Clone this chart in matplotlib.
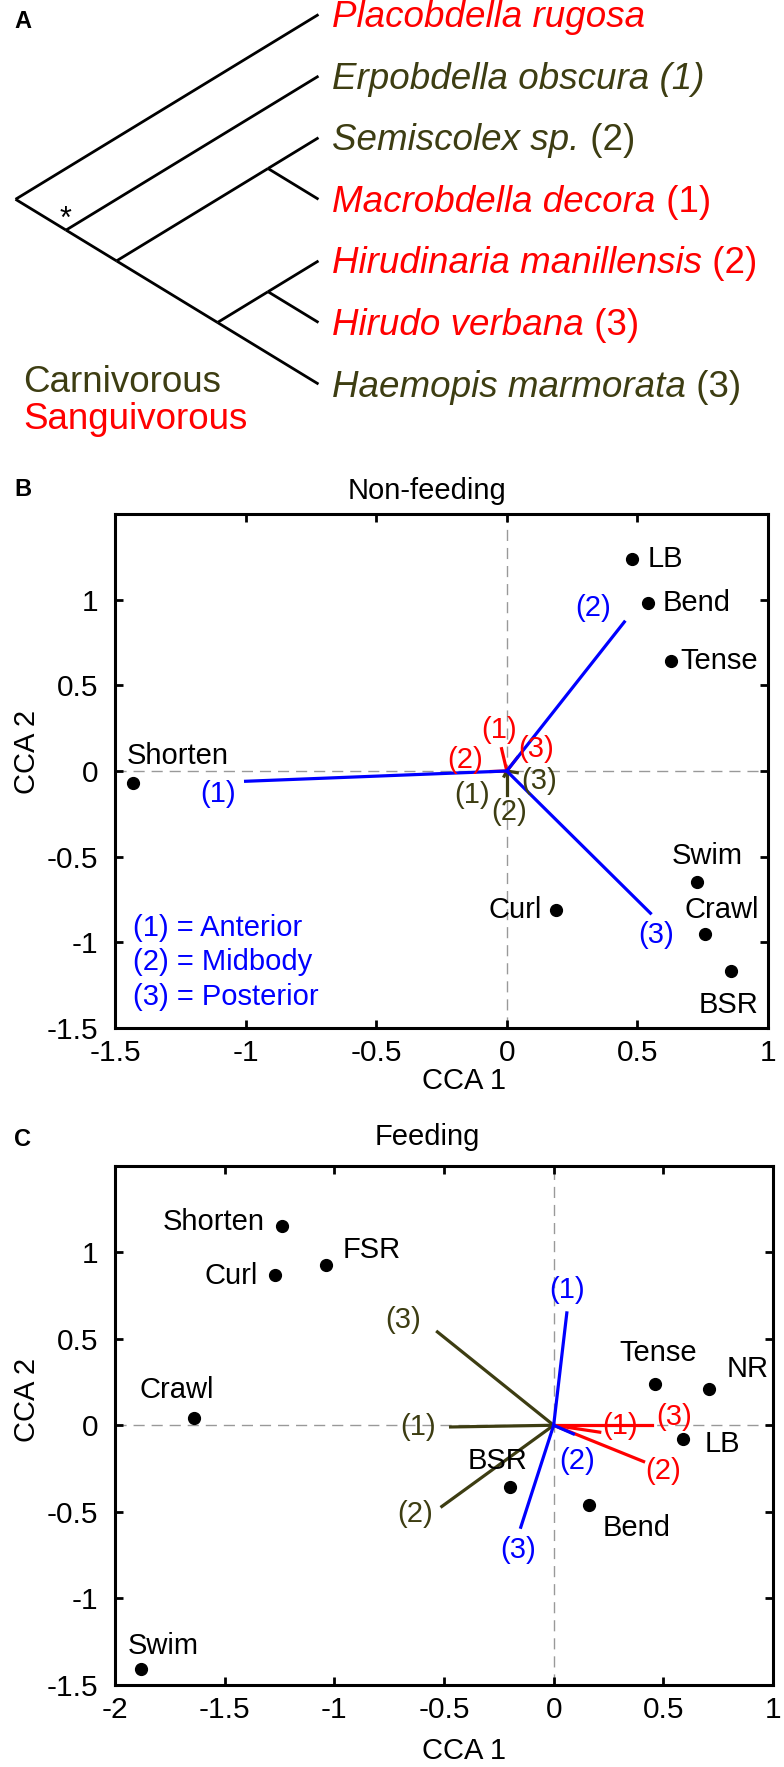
import matplotlib
matplotlib.use("Agg")
import matplotlib.pyplot as plt

plt.rcParams['font.family'] = ['Liberation Sans', 'DejaVu Sans']
plt.rcParams['axes.unicode_minus'] = False

RED = '#ff0000'
OLIVE = '#3d3d12'
BLUE = '#0000ff'

# ---- panel A: leech cladogram (tips numbered top to bottom)
tree = (0, (1, ((2, 3), ((4, 5), 6))))
tip_names = ['Placobdella rugosa', 'Erpobdella obscura (1)', 'Semiscolex sp.',
             'Macrobdella decora', 'Hirudinaria manillensis', 'Hirudo verbana',
             'Haemopis marmorata']
tip_suffix = ['', '', ' (2)', ' (1)', ' (2)', ' (3)', ' (3)']
tip_diet = ['Sanguivorous', 'Carnivorous', 'Carnivorous', 'Sanguivorous',
            'Sanguivorous', 'Sanguivorous', 'Carnivorous']
diet_colors = {'Carnivorous': OLIVE, 'Sanguivorous': RED}

# ---- panel B: non-feeding CCA
nf_behav = ['LB', 'Bend', 'Tense', 'Shorten', 'Swim', 'Crawl', 'BSR', 'Curl']
nf_x = [0.48, 0.54, 0.63, -1.43, 0.73, 0.76, 0.86, 0.19]
nf_y = [1.24, 0.98, 0.64, -0.07, -0.65, -0.95, -1.17, -0.81]
vec_labels = ['(1)', '(2)', '(3)']
nf_blue_x = [-1.00, 0.45, 0.55]
nf_blue_y = [-0.06, 0.87, -0.83]
nf_red_x = [-0.02, -0.06, 0.04]
nf_red_y = [0.13, -0.003, 0.078]
nf_olive_x = [-0.01, 0.0, 0.04]
nf_olive_y = [-0.03, -0.14, -0.01]

# ---- panel C: feeding CCA
f_behav = ['Shorten', 'Curl', 'FSR', 'Crawl', 'Swim', 'BSR', 'Bend', 'Tense', 'NR', 'LB']
f_x = [-1.24, -1.27, -1.04, -1.64, -1.88, -0.20, 0.16, 0.46, 0.71, 0.59]
f_y = [1.15, 0.87, 0.93, 0.04, -1.41, -0.36, -0.46, 0.24, 0.21, -0.08]
f_blue_x = [0.06, 0.09, -0.15]
f_blue_y = [0.65, -0.05, -0.59]
f_red_x = [0.21, 0.41, 0.45]
f_red_y = [-0.04, -0.21, 0.0]
f_olive_x = [-0.47, -0.51, -0.53]
f_olive_y = [-0.01, -0.47, 0.54]

# label offsets in pixels (ha, dx, dy)
nf_lab = {'LB': ('left', 15, 0), 'Bend': ('left', 15, 0), 'Tense': ('left', 9, 0),
          'Shorten': ('center', 44, 27), 'Swim': ('center', 10, 26),
          'Crawl': ('center', 16, 24), 'BSR': ('center', -3, -34), 'Curl': ('right', -15, 0)}
f_lab = {'Shorten': ('right', -17, 4), 'Curl': ('right', -17, -1), 'FSR': ('left', 17, 15),
         'Crawl': ('center', -17, 28), 'Swim': ('center', 22, 23), 'BSR': ('center', -12, 26),
         'Bend': ('center', 48, -23), 'Tense': ('center', 4, 31), 'NR': ('center', 38, 20),
         'LB': ('center', 39, -5)}
nf_vec_off = {'blue': [(-28, -13), (-31, 14), (6, -22)],
              'red': [(-3, 19), (-26, 12), (19, 9)],
              'olive': [(-32, -19), (2, -17), (22, -8)]}
f_vec_off = {'blue': [(0, 23), (4, -27), (-3, -23)],
             'red': [(20, 6), (20, -9), (22, 8)],
             'olive': [(-33, 0), (-27, -8), (-34, 12)]}

W, H = 784, 1767
fig = plt.figure(figsize=(W / 100, H / 100), dpi=100)

# overlay in pixel units for the tree and the free text
ax0 = fig.add_axes([0, 0, 1, 1])
ax0.set_xlim(0, W)
ax0.set_ylim(H, 0)
ax0.axis('off')

TIP_X, TIP_Y0, TIP_DY, SLOPE = 318.5, 14.5, 61.6, 0.61


def draw_clade(node):
    if isinstance(node, int):
        return (TIP_X, TIP_Y0 + node * TIP_DY), node, node
    kids = [draw_clade(c) for c in node]
    lo = min(k[1] for k in kids)
    hi = max(k[2] for k in kids)
    x = TIP_X - (hi - lo) / 2 * TIP_DY / SLOPE
    y = TIP_Y0 + (lo + hi) / 2 * TIP_DY
    for (cx, cy), _, _ in kids:
        ax0.plot([x, cx], [y, cy], color='black', lw=2, solid_capstyle='butt')
    return (x, y), lo, hi


draw_clade(tree)
ax0.text(66, 220, '*', fontsize=22, ha='center', va='center')

for i, name in enumerate(tip_names):
    col = diet_colors[tip_diet[i]]
    t = ax0.text(TIP_X + 14, TIP_Y0 + i * TIP_DY + 3, name, fontsize=26.5,
                 style='italic', color=col, ha='left', va='center')
    if tip_suffix[i]:
        ax0.annotate(tip_suffix[i], xy=(1, 0.5), xycoords=t, fontsize=26.5,
                     color=col, ha='left', va='center')

ax0.text(23, 383, 'Carnivorous', fontsize=26.5, color=OLIVE, ha='left', va='center')
ax0.text(23, 419, 'Sanguivorous', fontsize=26.5, color=RED, ha='left', va='center')

for letter, ly in [('A', 22), ('B', 489), ('C', 1139)]:
    ax0.text(22.5, ly, letter, fontsize=17, fontweight='bold', ha='center', va='center')
ax0.text(427, 491, 'Non-feeding', fontsize=21, ha='center', va='center')
ax0.text(427, 1137, 'Feeding', fontsize=21, ha='center', va='center')
ax0.text(464, 1081, 'CCA 1', fontsize=21, ha='center', va='center')
ax0.text(464, 1751, 'CCA 1', fontsize=21, ha='center', va='center')
ax0.text(27.5, 752, 'CCA 2', fontsize=21, ha='center', va='center', rotation=90)
ax0.text(27.5, 1400, 'CCA 2', fontsize=21, ha='center', va='center', rotation=90)


def cca_panel(ax, xlim, xticks, px, py, names, lab, vecs, vec_off):
    ax.set_xlim(*xlim)
    ax.set_ylim(-1.5, 1.5)
    ax.axhline(0, color='#999999', lw=1, ls=(0, (8, 5)), zorder=1)
    ax.axvline(0, color='#999999', lw=1, ls=(0, (8, 5)), zorder=1)
    for key, col in [('olive', OLIVE), ('red', RED), ('blue', BLUE)]:
        vx, vy = vecs[key]
        for j in range(len(vx)):
            ax.plot([0, vx[j]], [0, vy[j]], color=col, lw=2.3, zorder=3)
            dx, dy = vec_off[key][j]
            ax.annotate(vec_labels[j], xy=(vx[j], vy[j]), xytext=(dx, dy),
                        textcoords='offset pixels', color=col, fontsize=21,
                        ha='center', va='center', zorder=4)
    ax.plot(px, py, 'o', color='black', ms=8.5, zorder=5)
    for name, x, y in zip(names, px, py):
        ha, dx, dy = lab[name]
        ax.annotate(name, xy=(x, y), xytext=(dx, dy), textcoords='offset pixels',
                    fontsize=21, ha=ha, va='center', zorder=5)
    yticks = [-1.5, -1, -0.5, 0, 0.5, 1]
    ax.set_xticks(xticks)
    ax.set_xticklabels(['%g' % v for v in xticks])
    ax.set_yticks(yticks)
    ax.set_yticklabels(['%g' % v for v in yticks])
    ax.tick_params(direction='in', top=True, right=True, length=6, width=2,
                   labelsize=21.5)
    ax.tick_params(axis='x', pad=8)
    ax.tick_params(axis='y', pad=12)
    for s in ax.spines.values():
        s.set_linewidth(2.2)


axB = fig.add_axes([115 / W, (H - 1028) / H, 653 / W, 514 / H])
cca_panel(axB, (-1.5, 1), [-1.5, -1, -0.5, 0, 0.5, 1], nf_x, nf_y, nf_behav, nf_lab,
          {'blue': (nf_blue_x, nf_blue_y), 'red': (nf_red_x, nf_red_y),
           'olive': (nf_olive_x, nf_olive_y)}, nf_vec_off)
for k, txt in enumerate(['(1) = Anterior', '(2) = Midbody', '(3) = Posterior']):
    axB.text(0.027, 0.195 - k * 0.067, txt, transform=axB.transAxes, color=BLUE,
             fontsize=21, ha='left', va='center')

axC = fig.add_axes([115 / W, (H - 1684.5) / H, 658 / W, 518.5 / H])
cca_panel(axC, (-2, 1), [-2, -1.5, -1, -0.5, 0, 0.5, 1], f_x, f_y, f_behav, f_lab,
          {'blue': (f_blue_x, f_blue_y), 'red': (f_red_x, f_red_y),
           'olive': (f_olive_x, f_olive_y)}, f_vec_off)

fig.savefig('out.png', dpi=100)
